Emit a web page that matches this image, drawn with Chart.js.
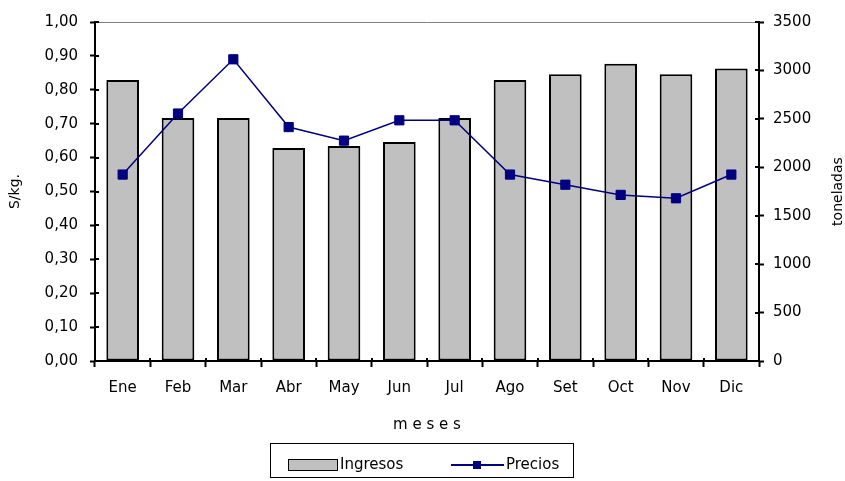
<!DOCTYPE html>
<html>
<head>
<meta charset="utf-8">
<script src="https://cdn.jsdelivr.net/npm/chart.js@4/dist/chart.umd.min.js"></script>
<style>
  html, body { margin: 0; padding: 0; background: #fff; }
  #wrap { position: relative; width: 845px; height: 481px; }
  #legend {
    position: absolute; left: 270px; top: 443px; width: 304px; height: 35px;
    border: 1px solid #000; box-sizing: border-box;
    font: 15px "DejaVu Sans", sans-serif; color: #000;
  }
  #legend span { position: absolute; }
  .sw-bar { left: 17px; top: 15px; width: 50px; height: 12px; background: #c0c0c0; border: 1px solid #000; box-sizing: border-box; }
  .sw-line { left: 180px; top: 20px; width: 53px; height: 2px; background: #000080; }
  .sw-mark { left: 202px; top: 17px; width: 8px; height: 8px; background: #000080; }
  .lbl { top: 11px; line-height: 18px; }
</style>
</head>
<body>
<div id="wrap">
  <canvas id="chart" width="845" height="481"></canvas>
  <div id="legend">
    <span class="sw-bar"></span><span class="lbl" style="left:69px">Ingresos</span>
    <span class="sw-line"></span><span class="sw-mark"></span><span class="lbl" style="left:235px">Precios</span>
  </div>
</div>
<script>
const meses = ['Ene', 'Feb', 'Mar', 'Abr', 'May', 'Jun', 'Jul', 'Ago', 'Set', 'Oct', 'Nov', 'Dic'];
const ingresos = [2900, 2510, 2510, 2200, 2220, 2260, 2510, 2900, 2960, 3070, 2960, 3020];
const precios = [0.55, 0.73, 0.89, 0.69, 0.65, 0.71, 0.71, 0.55, 0.52, 0.49, 0.48, 0.55];
const precioTicks = ['0,00', '0,10', '0,20', '0,30', '0,40', '0,50', '0,60', '0,70', '0,80', '0,90', '1,00'];
const toneladaTicks = ['0', '500', '1000', '1500', '2000', '2500', '3000', '3500'];

const font = { family: 'DejaVu Sans', size: 15 };

// tick marks that cross into the plot area, plus the rotated right-hand title
const axisExtras = {
    id: 'axisExtras',
    afterDraw(chart) {
        const { ctx, chartArea, scales } = chart;
        ctx.save();
        ctx.strokeStyle = '#000';
        ctx.lineWidth = 2;
        ctx.beginPath();
        scales.y.ticks.forEach((t, i) => {
            const yy = Math.round(scales.y.getPixelForTick(i));
            ctx.moveTo(chartArea.left, yy);
            ctx.lineTo(chartArea.left + 4, yy);
        });
        scales.y1.ticks.forEach((t, i) => {
            const yy = Math.round(scales.y1.getPixelForTick(i));
            ctx.moveTo(chartArea.right, yy);
            ctx.lineTo(chartArea.right - 4, yy);
        });
        for (let i = 0; i <= meses.length; i++) {
            const xx = Math.round(scales.x.getPixelForValue(i - 0.5));
            ctx.moveTo(xx, chartArea.bottom);
            ctx.lineTo(xx, chartArea.bottom - 3);
        }
        ctx.stroke();

        ctx.translate(838, (chartArea.top + chartArea.bottom) / 2);
        ctx.rotate(-Math.PI / 2);
        ctx.fillStyle = '#000';
        ctx.font = '14px "DejaVu Sans"';
        ctx.textAlign = 'center';
        ctx.textBaseline = 'middle';
        ctx.fillText('toneladas', 0, 0);
        ctx.restore();
    }
};

new Chart(document.getElementById('chart'), {
    data: {
        labels: meses,
        datasets: [
            {
                type: 'line',
                label: 'Precios',
                data: precios,
                yAxisID: 'y',
                order: 1,
                borderColor: '#000080',
                borderWidth: 1.5,
                pointStyle: 'rect',
                pointRadius: 6.5,
                pointBackgroundColor: '#000080',
                pointBorderColor: '#000080',
                pointBorderWidth: 1,
                tension: 0
            },
            {
                type: 'bar',
                label: 'Ingresos',
                data: ingresos,
                yAxisID: 'y1',
                order: 2,
                backgroundColor: '#c0c0c0',
                borderColor: '#000',
                borderWidth: 2,
                borderSkipped: false,
                categoryPercentage: 1,
                barPercentage: 0.59
            }
        ]
    },
    options: {
        responsive: false,
        animation: false,
        layout: { padding: { top: 22, left: 0, right: 0, bottom: 38 } },
        plugins: {
            legend: { display: false },
            tooltip: { enabled: false }
        },
        scales: {
            x: {
                afterFit: s => { s.height = 82; },
                grid: { drawOnChartArea: false, tickLength: 6, tickWidth: 2, tickColor: '#000' },
                border: { color: '#000', width: 2 },
                ticks: { color: '#000', font: font, padding: 12, maxRotation: 0 },
                title: { display: true, text: 'm e s e s', color: '#000', font: font, padding: { top: 0, bottom: 9 } }
            },
            y: {
                position: 'left',
                min: 0,
                max: 1,
                afterFit: s => { s.width = 95; },
                grid: {
                    color: c => c.index === 10 ? '#808080' : 'transparent',
                    lineWidth: 1,
                    tickLength: 5,
                    tickWidth: 2,
                    tickColor: '#000'
                },
                border: { color: '#000', width: 2 },
                ticks: {
                    stepSize: 0.1,
                    color: '#000',
                    font: font,
                    padding: 12,
                    callback: (v, i) => precioTicks[i]
                },
                title: { display: true, text: 'S/kg.', color: '#000', font: { family: 'DejaVu Sans', size: 14 }, padding: { top: 7, bottom: 0 } }
            },
            y1: {
                position: 'right',
                min: 0,
                max: 3500,
                afterFit: s => { s.width = 86; },
                grid: { drawOnChartArea: false, tickLength: 5, tickWidth: 2, tickColor: '#000' },
                border: { color: '#000', width: 2 },
                ticks: {
                    stepSize: 500,
                    color: '#000',
                    font: font,
                    padding: 9,
                    callback: (v, i) => toneladaTicks[i]
                }
            }
        }
    },
    plugins: [axisExtras]
});
</script>
</body>
</html>
